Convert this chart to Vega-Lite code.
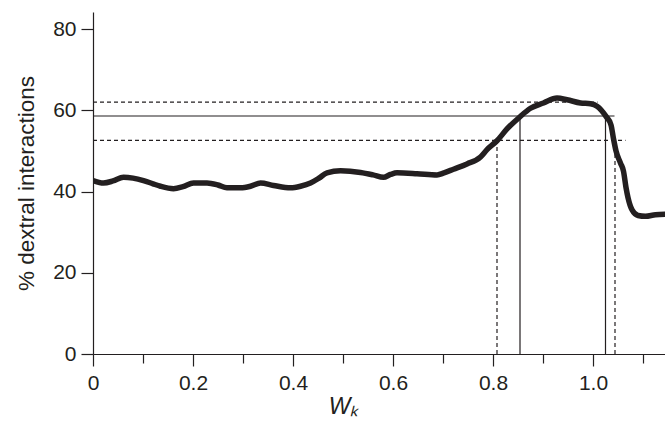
{
  "$schema": "https://vega.github.io/schema/vega-lite/v6.json",
  "width": 572,
  "height": 342,
  "autosize": "none",
  "padding": {"left": 93, "top": 12, "right": 0, "bottom": 67},
  "background": "white",
  "config": {
    "view": {"stroke": null},
    "font": "Liberation Sans",
    "axis": {
      "domainColor": "#231f20",
      "domainWidth": 1.2,
      "tickColor": "#231f20",
      "tickWidth": 1.2,
      "labelColor": "#231f20",
      "titleColor": "#231f20",
      "labelFont": "Liberation Sans",
      "titleFont": "Liberation Sans",
      "labelFontSize": 21,
      "grid": false
    }
  },
  "datasets": {
    "curve": [
      {"w": 0, "pct": 42.7}, {"w": 0.021, "pct": 42.1}, {"w": 0.04, "pct": 42.6},
      {"w": 0.061, "pct": 43.5}, {"w": 0.08, "pct": 43.3}, {"w": 0.101, "pct": 42.7},
      {"w": 0.12, "pct": 41.9}, {"w": 0.135, "pct": 41.3}, {"w": 0.161, "pct": 40.7},
      {"w": 0.18, "pct": 41.2}, {"w": 0.201, "pct": 42.1}, {"w": 0.228, "pct": 42.1},
      {"w": 0.25, "pct": 41.6}, {"w": 0.268, "pct": 40.9}, {"w": 0.295, "pct": 40.9},
      {"w": 0.315, "pct": 41.3}, {"w": 0.335, "pct": 42.1}, {"w": 0.361, "pct": 41.5},
      {"w": 0.395, "pct": 40.9}, {"w": 0.415, "pct": 41.3}, {"w": 0.435, "pct": 42.1},
      {"w": 0.452, "pct": 43.3}, {"w": 0.468, "pct": 44.6}, {"w": 0.495, "pct": 45.1},
      {"w": 0.535, "pct": 44.7}, {"w": 0.56, "pct": 44.1}, {"w": 0.581, "pct": 43.5},
      {"w": 0.595, "pct": 44.2}, {"w": 0.608, "pct": 44.6}, {"w": 0.648, "pct": 44.4},
      {"w": 0.688, "pct": 44.1}, {"w": 0.702, "pct": 44.6}, {"w": 0.721, "pct": 45.5},
      {"w": 0.748, "pct": 46.8}, {"w": 0.775, "pct": 48.5}, {"w": 0.788, "pct": 50.3},
      {"w": 0.808, "pct": 52.5}, {"w": 0.828, "pct": 55.4}, {"w": 0.853, "pct": 58.3},
      {"w": 0.875, "pct": 60.5}, {"w": 0.901, "pct": 61.8}, {"w": 0.928, "pct": 63.0},
      {"w": 0.948, "pct": 62.6}, {"w": 0.975, "pct": 61.8}, {"w": 0.995, "pct": 61.6},
      {"w": 1.008, "pct": 61.0}, {"w": 1.026, "pct": 58.5}, {"w": 1.036, "pct": 56.4},
      {"w": 1.041, "pct": 53.0}, {"w": 1.046, "pct": 50.0}, {"w": 1.055, "pct": 47.0},
      {"w": 1.061, "pct": 45.0}, {"w": 1.066, "pct": 41.0}, {"w": 1.07, "pct": 38.5},
      {"w": 1.078, "pct": 35.5}, {"w": 1.09, "pct": 34.1}, {"w": 1.105, "pct": 33.9},
      {"w": 1.125, "pct": 34.3}, {"w": 1.144, "pct": 34.4}
    ],
    "refs": [
      {"x1": 0, "x2": 1.009, "y1": 62.0, "y2": 62.0, "kind": "dashed"},
      {"x1": 0, "x2": 1.043, "y1": 58.6, "y2": 58.6, "kind": "solid"},
      {"x1": 0, "x2": 1.065, "y1": 52.6, "y2": 52.6, "kind": "dashed"},
      {"x1": 0.808, "x2": 0.808, "y1": 0, "y2": 52.6, "kind": "dashed"},
      {"x1": 0.854, "x2": 0.854, "y1": 0, "y2": 58.6, "kind": "solid"},
      {"x1": 1.025, "x2": 1.025, "y1": 0, "y2": 58.6, "kind": "solid"},
      {"x1": 1.044, "x2": 1.044, "y1": 0, "y2": 52.6, "kind": "dashed"}
    ]
  },
  "layer": [
    {
      "data": {"name": "refs"},
      "mark": {"type": "rule", "color": "#231f20", "strokeWidth": 1.2},
      "encoding": {
        "x": {
          "field": "x1", "type": "quantitative",
          "scale": {"domain": [0, 1.144], "nice": false, "zero": false},
          "axis": {
            "values": [0, 0.1, 0.2, 0.3, 0.4, 0.5, 0.6, 0.7, 0.8, 0.9, 1.0, 1.1],
            "tickSize": {"condition": {"test": "round(datum.value*10) % 2 == 0", "value": 12}, "value": 9},
            "labelExpr": "round(datum.value*10) % 2 == 0 ? (datum.value == 0 ? '0' : format(datum.value, '.1f')) : ''",
            "labelPadding": 6,
            "labelFlush": false,
            "labelOverlap": false,
            "title": "Wₖ",
            "titleFontSize": 23,
            "titleFontStyle": "italic",
            "titleFontWeight": "normal",
            "titleX": 250,
            "titleAnchor": null,
            "titleAlign": "center",
            "titlePadding": 2
          }
        },
        "x2": {"field": "x2"},
        "y": {
          "field": "y1", "type": "quantitative",
          "scale": {"domain": [0, 84.2], "nice": false},
          "axis": {
            "values": [0, 20, 40, 60, 80],
            "tickSize": 12,
            "labelPadding": 5,
            "labelFlush": false,
            "title": "% dextral interactions",
            "titleFontSize": 22.5,
            "titleFontWeight": "normal",
            "titlePadding": 14
          }
        },
        "y2": {"field": "y2"},
        "strokeDash": {
          "field": "kind", "type": "nominal",
          "scale": {"domain": ["solid", "dashed"], "range": [[1, 0], [4, 3]]},
          "legend": null
        }
      }
    },
    {
      "data": {"name": "curve"},
      "mark": {"type": "line", "color": "#231f20", "strokeWidth": 5.5, "interpolate": "monotone", "strokeCap": "round", "strokeJoin": "round", "clip": true},
      "encoding": {
        "x": {"field": "w", "type": "quantitative"},
        "y": {"field": "pct", "type": "quantitative"}
      }
    }
  ]
}
